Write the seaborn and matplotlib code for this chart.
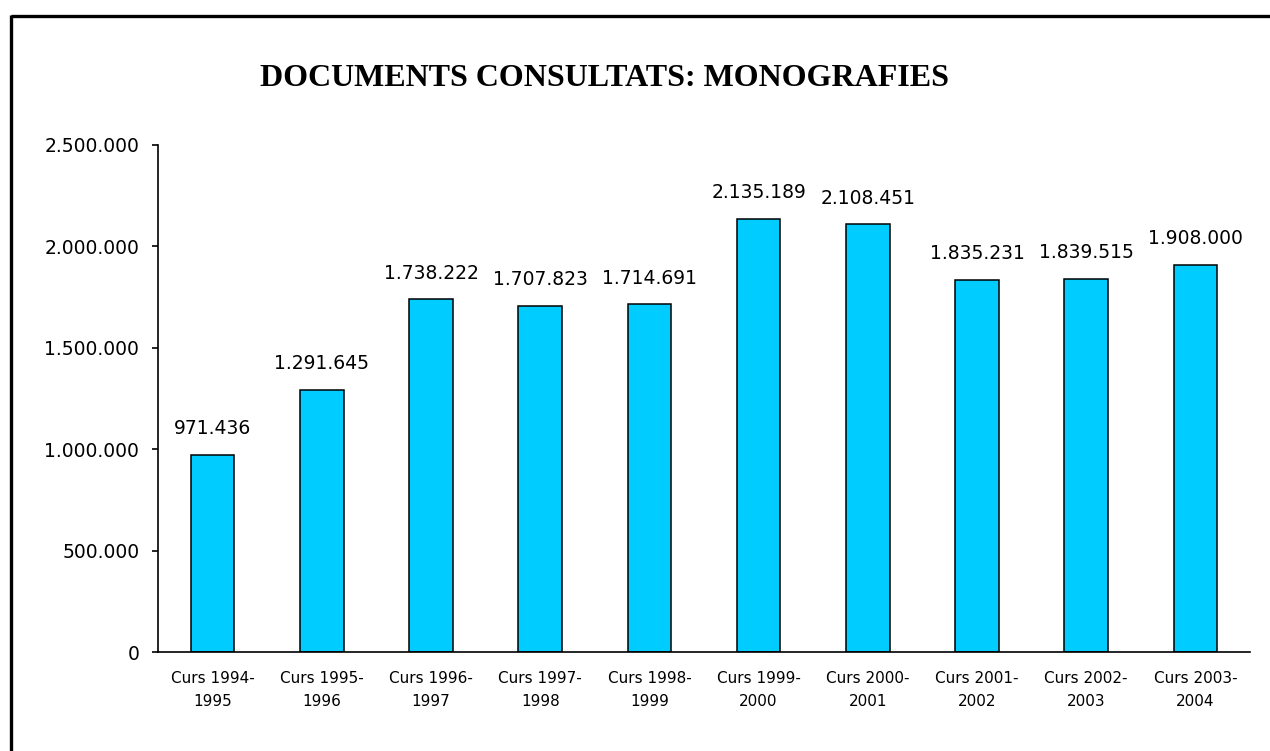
import numpy as np
import pandas as pd
import matplotlib
matplotlib.use('Agg')
import matplotlib.pyplot as plt
from matplotlib.lines import Line2D
from matplotlib.ticker import FuncFormatter
import seaborn as sns

sns.set_style('white')
plt.rcParams['font.family'] = ['DejaVu Sans']
plt.rcParams['text.color'] = 'black'
plt.rcParams['xtick.color'] = 'black'
plt.rcParams['ytick.color'] = 'black'

# Data
cursos = ['Curs 1994-\n1995', 'Curs 1995-\n1996', 'Curs 1996-\n1997', 'Curs 1997-\n1998',
          'Curs 1998-\n1999', 'Curs 1999-\n2000', 'Curs 2000-\n2001', 'Curs 2001-\n2002',
          'Curs 2002-\n2003', 'Curs 2003-\n2004']
monografies = [971436, 1291645, 1738222, 1707823, 1714691,
               2135189, 2108451, 1835231, 1839515, 1908000]
yticks = [0, 500000, 1000000, 1500000, 2000000, 2500000]

title = 'DOCUMENTS CONSULTATS: MONOGRAFIES'
bar_color = '#00CCFF'


def dot_thousands(v, pos=None):
    """Format numbers with '.' as thousands separator"""
    return '{:,.0f}'.format(v).replace(',', '.')


df = pd.DataFrame({'curs': cursos, 'valor': monografies})

fig = plt.figure(figsize=(12.7, 7.51), dpi=100)
ax = fig.add_axes([158 / 1270, 1 - 652 / 751, (1250 - 158) / 1270, (652 - 145) / 751])

sns.barplot(data=df, x='curs', y='valor', color=bar_color, width=0.4,
            edgecolor='black', linewidth=1.1, saturation=1, ax=ax)

ax.set_xlim(-0.5, len(cursos) - 0.5)
ax.set_ylim(0, 2500000)
ax.set_yticks(yticks)
ax.yaxis.set_major_formatter(FuncFormatter(dot_thousands))
ax.set_xlabel('')
ax.set_ylabel('')

# Spines: only left and bottom
for side in ['top', 'right']:
    ax.spines[side].set_visible(False)
for side in ['left', 'bottom']:
    ax.spines[side].set_color('black')
    ax.spines[side].set_linewidth(1.2)

ax.tick_params(axis='y', which='both', left=True, length=4.5, width=1.2, pad=9,
               labelsize=13.5, labelcolor='black')
ax.tick_params(axis='x', which='both', bottom=False, length=0, pad=14, labelsize=11,
               labelcolor='black')
for lbl in ax.get_xticklabels():
    lbl.set_linespacing(1.6)

# Value labels above bars
for i, v in enumerate(monografies):
    ax.annotate(dot_thousands(v), xy=(i, v), xytext=(0, 12), textcoords='offset points',
                ha='center', va='bottom', fontsize=13.5, color='black')

# Title
fig.text(605 / 1270, 1 - 78 / 751, title, ha='center', va='center', color='black',
         family='Liberation Serif', fontweight='bold', fontsize=23)

# Outer frame (top and left edges)
fig.add_artist(Line2D([11 / 1270, 1.0], [1 - 16 / 751, 1 - 16 / 751],
                      transform=fig.transFigure, color='black', linewidth=2.4,
                      solid_capstyle='butt'))
fig.add_artist(Line2D([11 / 1270, 11 / 1270], [0.0, 1 - 15 / 751],
                      transform=fig.transFigure, color='black', linewidth=2.4,
                      solid_capstyle='butt'))

fig.savefig('out.png', dpi=100)
